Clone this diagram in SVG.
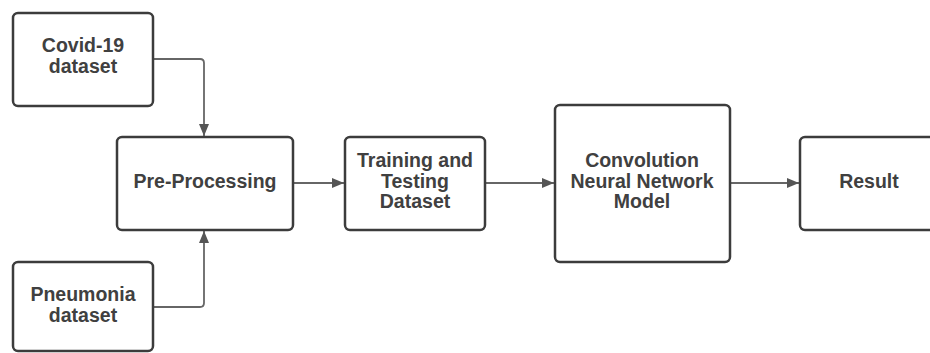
<svg xmlns="http://www.w3.org/2000/svg" width="930" height="353" viewBox="0 0 930 353">
<defs>
<marker id="arr" viewBox="0 0 12 10" refX="12" refY="5" markerWidth="12" markerHeight="10" markerUnits="userSpaceOnUse" orient="auto">
<path d="M0,0 L12,5 L0,10 Z" fill="#555"/>
</marker>
<style>
.box{fill:#fff;stroke:#3c3c3c;stroke-width:2.5}
.lbl{font-family:"Liberation Sans",Arial,sans-serif;font-weight:bold;font-size:19.5px;fill:#404040;text-anchor:middle}
.con{fill:none;stroke:#666;stroke-width:1.8;marker-end:url(#arr)}
</style>
</defs>
<rect width="930" height="353" fill="#fff"/>
<g id="connectors">
<path class="con" d="M153,59 H200 Q204,59 204,63 V136"/>
<path class="con" d="M153,307 H200 Q204,307 204,303 V231"/>
<path class="con" d="M293,183 H344"/>
<path class="con" d="M485,183 H554"/>
<path class="con" d="M730,183 H799"/>
</g>
<g id="covid">
<rect class="box" x="13" y="13" width="140" height="93" rx="5"/>
<text class="lbl" x="83" y="52">Covid-19</text>
<text class="lbl" x="83" y="73">dataset</text>
</g>
<g id="pneumonia">
<rect class="box" x="13" y="262" width="140" height="89" rx="5"/>
<text class="lbl" x="83" y="301">Pneumonia</text>
<text class="lbl" x="83" y="322">dataset</text>
</g>
<g id="preprocessing">
<rect class="box" x="117" y="137" width="176" height="93" rx="5"/>
<text class="lbl" x="205" y="188">Pre-Processing</text>
</g>
<g id="training">
<rect class="box" x="345" y="137" width="140" height="93" rx="5"/>
<text class="lbl" x="415" y="167">Training and</text>
<text class="lbl" x="415" y="188">Testing</text>
<text class="lbl" x="415" y="208">Dataset</text>
</g>
<g id="cnn">
<rect class="box" x="555" y="105" width="175" height="157" rx="5"/>
<text class="lbl" x="642" y="167">Convolution</text>
<text class="lbl" x="642" y="188">Neural Network</text>
<text class="lbl" x="642" y="208">Model</text>
</g>
<g id="result">
<rect class="box" x="800" y="137" width="140" height="93" rx="5"/>
<text class="lbl" x="869" y="188">Result</text>
</g>
</svg>
